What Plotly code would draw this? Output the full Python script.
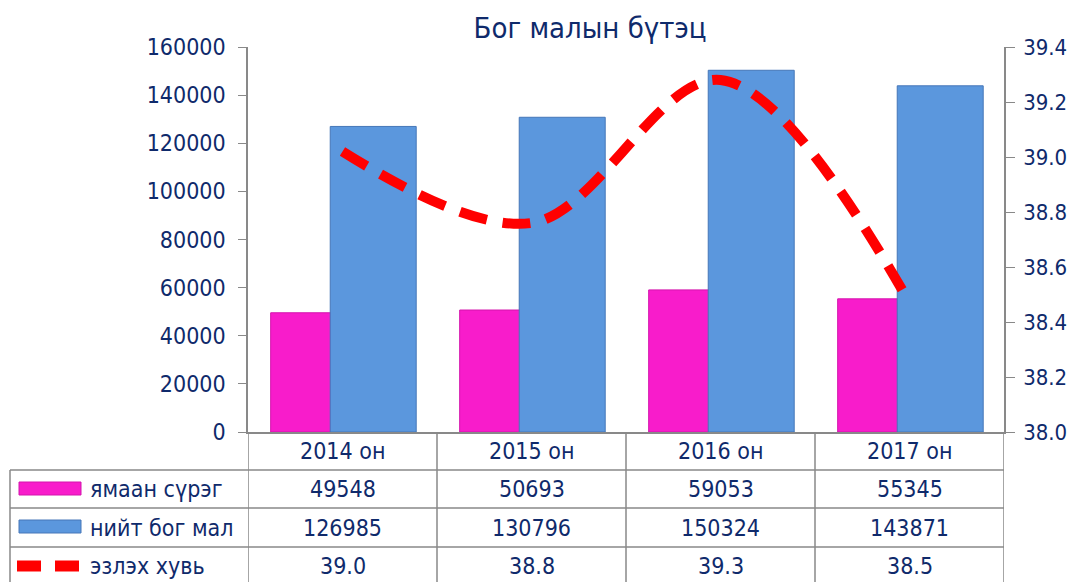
import plotly.graph_objects as go

# chart data
years = ["2014 он", "2015 он", "2016 он", "2017 он"]
goats = [49548, 50693, 59053, 55345]
small_total = [126985, 130796, 150324, 143871]
share = [39.02, 38.76, 39.28, 38.47]
share_labels = ["39.0", "38.8", "39.3", "38.5"]

series_names = ["ямаан сүрэг", "нийт бог мал", "эзлэх хувь"]

FONT = "DejaVu Sans Condensed, DejaVu Sans, sans-serif"
TXT = "#0F2A6B"
GRID = "#898989"
MAGENTA = "#F81CCB"
BLUE = "#5B97DD"

# the page body adds an 8px margin, so the figure is drawn 8px in
OFF = 8
W, H = 1081 - OFF, 582 - OFF
L, T = 248 - OFF, 47 - OFF
pw, ph = 756, 385
R, B = W - L - pw, H - T - ph


def px_x(px):
    # page pixel -> paper x
    return (px - OFF - L) / pw


def px_y(py):
    # page pixel -> paper y
    return (T + ph - (py - OFF)) / ph


fig = go.Figure()
fig.add_trace(go.Bar(
    x=years, y=goats, name=series_names[0],
    marker=dict(color=MAGENTA, line=dict(color="#D414AD", width=1)),
    width=0.455, offset=-0.38,
))
fig.add_trace(go.Bar(
    x=years, y=small_total, name=series_names[1],
    marker=dict(color=BLUE, line=dict(color="#4677B8", width=1)),
    width=0.455, offset=-0.065,
))
fig.add_trace(go.Scatter(
    x=years, y=share, name=series_names[2], yaxis="y2",
    mode="lines", line=dict(color="#FF0000", width=10, dash="28px,16px",
                            shape="spline", smoothing=1.0),
))

fig.update_layout(
    width=W, height=H,
    margin=dict(l=L, r=R, t=T, b=B),
    paper_bgcolor="white", plot_bgcolor="white",
    barmode="overlay", showlegend=False,
    font=dict(family=FONT, size=23, color=TXT),
    title=dict(text="Бог малын бүтэц", x=(590 - OFF) / W, xanchor="center",
               y=1 - (28 - OFF) / H, yanchor="middle",
               font=dict(size=29, color=TXT, family=FONT)),
    xaxis=dict(range=[-0.5, 3.5], showticklabels=False, showline=True,
               linecolor=GRID, linewidth=1.5, ticks="", showgrid=False,
               zeroline=False, automargin=False),
    yaxis=dict(range=[0, 160000], dtick=20000, showline=True, linecolor=GRID,
               linewidth=1.5, ticks="outside", ticklen=8, tickcolor=GRID,
               showgrid=False, zeroline=False, tickformat="d",
               ticklabelstandoff=8, automargin=False),
    yaxis2=dict(range=[38.0, 39.4], dtick=0.2, overlaying="y", side="right",
                showline=True, linecolor=GRID, linewidth=1.5, ticks="outside",
                ticklen=9, tickcolor=GRID, showgrid=False, zeroline=False,
                tickformat=".1f", ticklabelstandoff=4, automargin=False,
                tickfont=dict(size=22)),
)

# data table under the plot
rows_y = [451, 489, 527.5, 566]
shapes = []
line_style = dict(color=GRID, width=1.5)
for b in [-0.5, 0.5, 1.5, 2.5, 3.5]:
    shapes.append(dict(type="line", xref="x", yref="paper", x0=b, x1=b,
                       y0=0, y1=px_y(600), line=line_style))
for yy in [470, 508, 547]:
    shapes.append(dict(type="line", xref="paper", yref="paper",
                       x0=px_x(10), x1=1, y0=px_y(yy), y1=px_y(yy),
                       line=line_style))
shapes.append(dict(type="line", xref="paper", yref="paper",
                   x0=px_x(10), x1=px_x(10), y0=px_y(470), y1=px_y(600),
                   line=line_style))

# legend keys inside the table
shapes.append(dict(type="rect", xref="paper", yref="paper",
                   x0=px_x(19), x1=px_x(81), y0=px_y(482), y1=px_y(495),
                   fillcolor=MAGENTA, line=dict(color="#D414AD", width=1)))
shapes.append(dict(type="rect", xref="paper", yref="paper",
                   x0=px_x(19), x1=px_x(81), y0=px_y(520), y1=px_y(533),
                   fillcolor=BLUE, line=dict(color="#4677B8", width=1)))
for x0, x1 in [(17, 41), (55, 79)]:
    shapes.append(dict(type="line", xref="paper", yref="paper",
                       x0=px_x(x0), x1=px_x(x1), y0=px_y(566), y1=px_y(566),
                       line=dict(color="#FF0000", width=11)))

annotations = []
for i, yr in enumerate(years):
    cells = [yr, str(goats[i]), str(small_total[i]), share_labels[i]]
    for txt, ry in zip(cells, rows_y):
        annotations.append(dict(x=yr, xref="x", y=px_y(ry), yref="paper",
                                text=txt, showarrow=False, xanchor="center",
                                yanchor="middle"))
for name, ry in zip(series_names, rows_y[1:]):
    annotations.append(dict(x=px_x(88), xref="paper", y=px_y(ry), yref="paper",
                            text=name, showarrow=False, xanchor="left",
                            yanchor="middle"))

fig.update_layout(shapes=shapes, annotations=annotations)
fig.write_html("out.html")
